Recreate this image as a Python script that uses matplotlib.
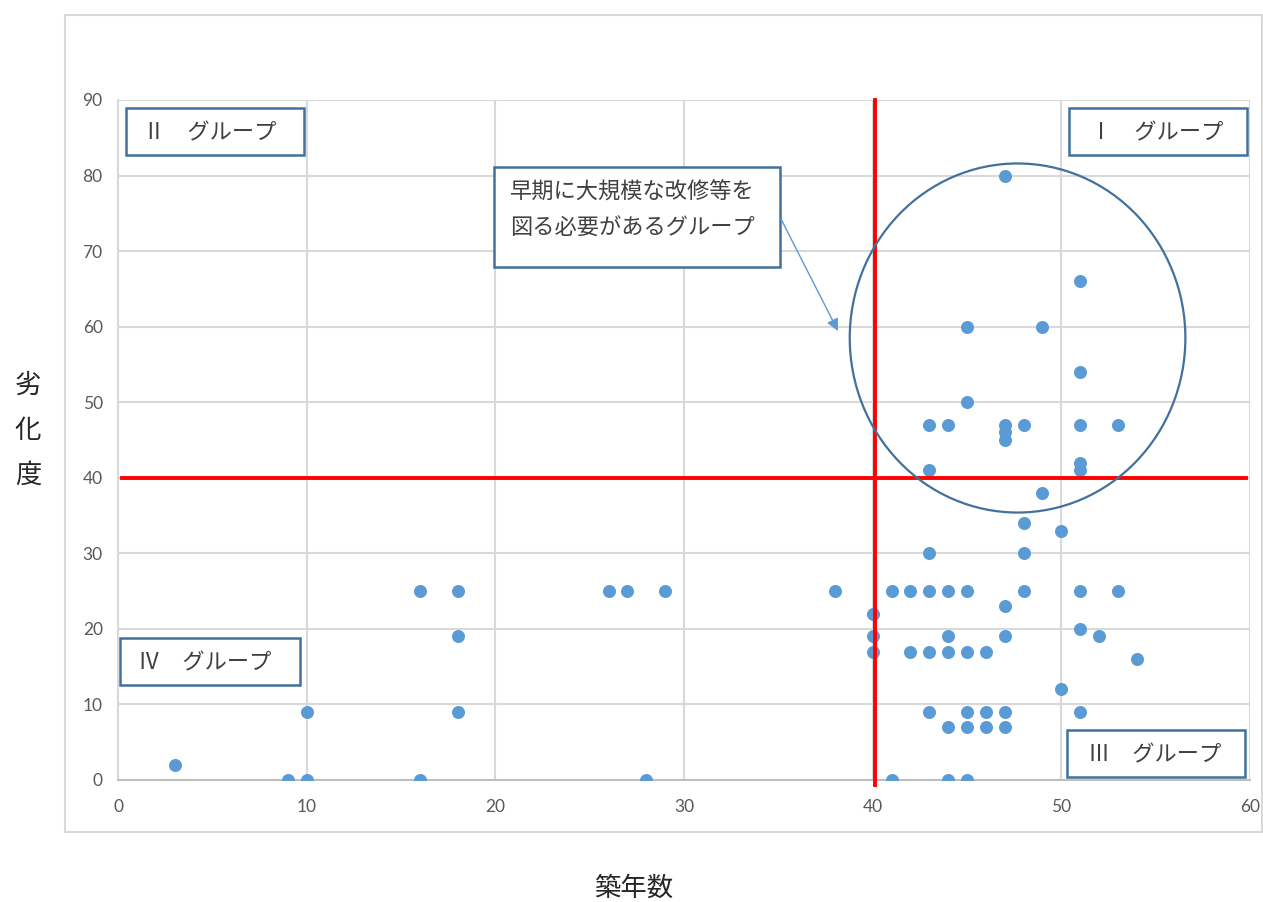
import matplotlib
matplotlib.use("Agg")
import matplotlib.pyplot as plt
from matplotlib.patches import Ellipse, Rectangle
import numpy as np

# 築年数 (x) and 劣化度 (y)
age = [3, 9, 10, 10, 16, 16, 18, 18, 18, 26, 27, 29, 28, 38,
       40, 40, 40, 41, 41, 42, 42,
       43, 43, 43, 43, 43, 43,
       44, 44, 44, 44, 44, 44,
       45, 45, 45, 45, 45, 45, 45,
       46, 46, 46,
       47, 47, 47, 47, 47, 47, 47, 47,
       48, 48, 48, 48,
       49, 49, 50, 50,
       51, 51, 51, 51, 51, 51, 51, 51,
       52, 53, 53, 54]
deterioration = [2, 0, 0, 9, 0, 25, 25, 19, 9, 25, 25, 25, 0, 25,
                 22, 19, 17, 25, 0, 25, 17,
                 25, 30, 17, 9, 47, 41,
                 25, 19, 17, 7, 0, 47,
                 25, 17, 9, 7, 0, 60, 50,
                 17, 9, 7,
                 23, 19, 9, 7, 80, 47, 46, 45,
                 47, 34, 30, 25,
                 60, 38, 33, 12,
                 66, 54, 47, 42, 41, 25, 20, 9,
                 19, 47, 25, 16]

x_ticks = [0, 10, 20, 30, 40, 50, 60]
y_ticks = [0, 10, 20, 30, 40, 50, 60, 70, 80, 90]
age_threshold = 40
deterioration_threshold = 40

group_labels = ["Ⅰ　グループ", "Ⅱ　グループ", "Ⅲ　グループ", "Ⅳ　グループ"]
callout_text = "早期に大規模な改修等を\n図る必要があるグループ"

CJK = ["Noto Sans CJK JP", "DejaVu Sans"]
BOX_EDGE = "#41719c"
TEXT_COLOR = "#404040"

fig = plt.figure(figsize=(12.63, 9.02), dpi=100)
W, H = 1263, 902

# outer chart frame
fig.patches.append(Rectangle((65 / W, 1 - 832 / H), (1262 - 65) / W, (832 - 15) / H,
                             transform=fig.transFigure, fill=False,
                             edgecolor="#d9d9d9", linewidth=1.5))

ax = fig.add_axes([118 / W, 1 - 780 / H, 1132 / W, 680 / H])
ax.set_xlim(0, 60)
ax.set_ylim(0, 90)
ax.set_xticks(x_ticks)
ax.set_yticks(y_ticks)
ax.grid(True, color="#d9d9d9", linewidth=1.5)
ax.set_axisbelow(True)
for s in ["top", "right"]:
    ax.spines[s].set_visible(False)
ax.spines["left"].set_color("#d9d9d9")
ax.spines["left"].set_linewidth(1.5)
ax.spines["bottom"].set_color("#bfbfbf")
ax.spines["bottom"].set_linewidth(1.5)
ax.tick_params(length=0, labelsize=12.5, labelcolor="#595959")
ax.tick_params(axis="x", pad=14)
ax.tick_params(axis="y", pad=11)
for lab in ax.get_xticklabels() + ax.get_yticklabels():
    lab.set_family("Lato")

ax.scatter(age, deterioration, s=88, color="#5b9bd5", zorder=3, linewidths=0)

# threshold lines
ax.plot([age_threshold + 0.15] * 2, [-0.7, 90], color="#ff0000", lw=2.8,
        clip_on=False, zorder=4)
ax.plot([0.2, 59.8], [deterioration_threshold] * 2,
        color="#ff0000", lw=2.8, clip_on=False, zorder=4)

# circle around group I
ax.add_patch(Ellipse((47.68, 58.5), 17.79, 46.2, fill=False,
                     edgecolor=BOX_EDGE, linewidth=1.6, zorder=5))


def px_box(x0, y0, x1, y1):
    # pixel rectangle -> axes fraction
    ax_x0 = (x0 - 118) / 1132
    ax_x1 = (x1 - 118) / 1132
    ax_y0 = (780 - y1) / 680
    ax_y1 = (780 - y0) / 680
    return ax_x0, ax_y0, ax_x1 - ax_x0, ax_y1 - ax_y0


def label_box(rect, text, tx, ty):
    x, y, w, h = px_box(*rect)
    ax.add_patch(Rectangle((x, y), w, h, transform=ax.transAxes, facecolor="white",
                           edgecolor=BOX_EDGE, linewidth=1.8, clip_on=False, zorder=6))
    ax.text((tx - 118) / 1132, (780 - ty) / 680, text, transform=ax.transAxes,
            family=CJK, fontsize=16, color=TEXT_COLOR, ha="left", va="center",
            linespacing=1.75, zorder=7)


label_box((1069, 108, 1247, 155), group_labels[0], 1090, 133)
label_box((126, 108, 304, 155), group_labels[1], 143, 133)
label_box((1067, 730, 1245, 777), group_labels[2], 1088, 755)
label_box((120, 638, 300, 685), group_labels[3], 138, 663)
label_box((494, 167, 780, 267), callout_text, 510, 210)

# callout pointer
ax.annotate("", xy=((838 - 118) / 1132, (780 - 331) / 680),
            xytext=((781 - 118) / 1132, (780 - 219) / 680),
            xycoords="axes fraction", textcoords="axes fraction",
            arrowprops=dict(arrowstyle="-|>", color="#5b9bd5", lw=1.0,
                            mutation_scale=18, shrinkA=0, shrinkB=0),
            zorder=6)

# axis titles
fig.text(28 / W, 1 - 430 / H, "劣\n化\n度", family=CJK, fontsize=19,
         color="#262626", ha="center", va="center", linespacing=1.85)
fig.text(634 / W, 1 - 888 / H, "築年数", family=CJK, fontsize=19,
         color="#262626", ha="center", va="center")

fig.savefig("out.png", dpi=100, facecolor="white")
